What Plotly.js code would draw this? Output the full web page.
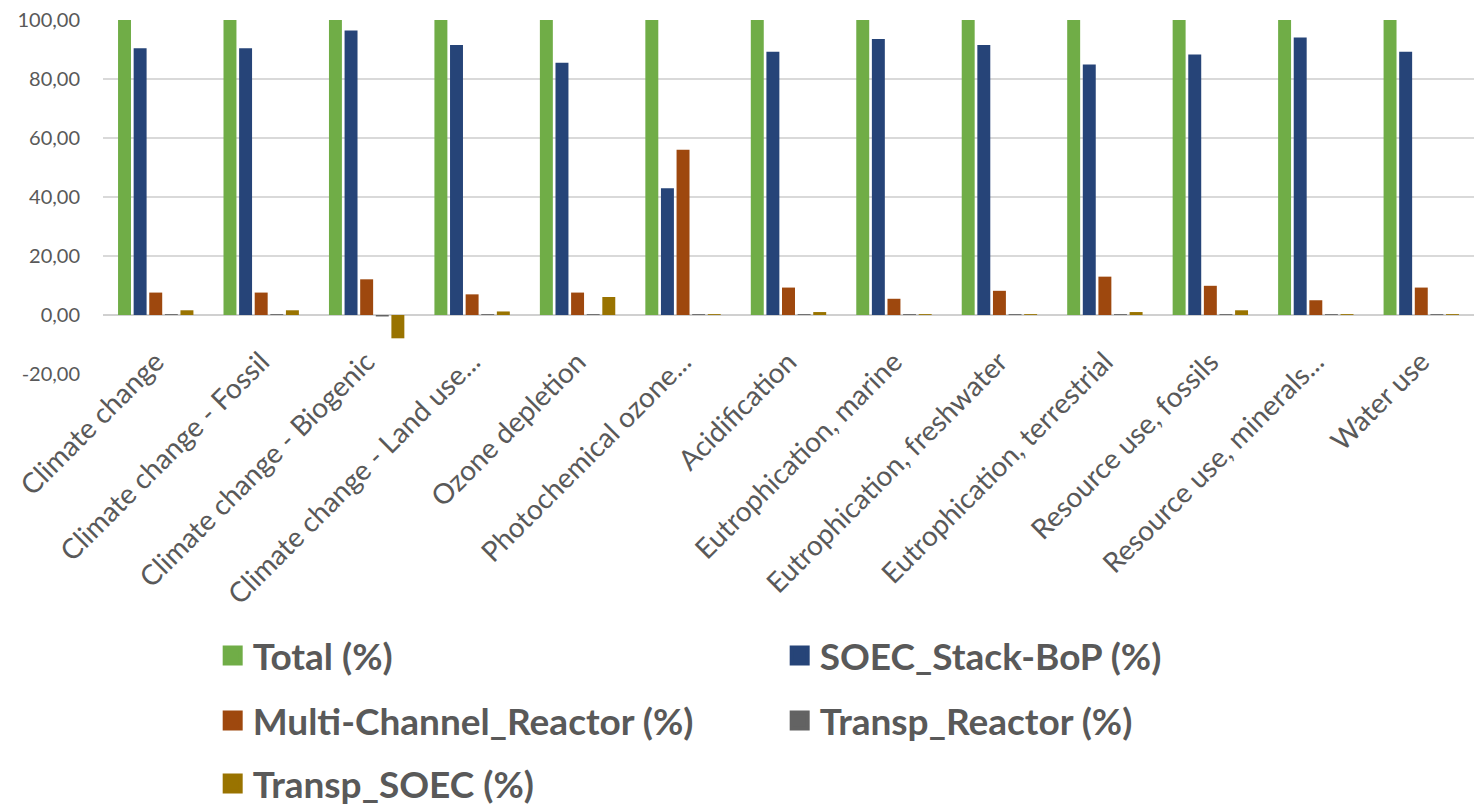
<!DOCTYPE html>
<html>
<head>
<meta charset="utf-8">
<script src="https://cdn.plot.ly/plotly-3.0.1.min.js"></script>
<style>html,body{margin:0;padding:0;background:#fff;}#chart{width:1474px;height:811px;}</style>
</head>
<body>
<div id="chart"></div>
<script>
const categories = [
  "Climate change", "Climate change - Fossil", "Climate change - Biogenic",
  "Climate change - Land use...", "Ozone depletion", "Photochemical ozone...",
  "Acidification", "Eutrophication, marine", "Eutrophication, freshwater",
  "Eutrophication, terrestrial", "Resource use, fossils", "Resource use, minerals...",
  "Water use"
];
const seriesNames = ["Total (%)", "SOEC_Stack-BoP (%)", "Multi-Channel_Reactor (%)", "Transp_Reactor (%)", "Transp_SOEC (%)"];
const total        = [100, 100, 100, 100, 100, 100, 100, 100, 100, 100, 100, 100, 100];
const soecStackBoP = [90.4, 90.4, 96.4, 91.5, 85.5, 43.0, 89.2, 93.6, 91.5, 84.9, 88.3, 94.1, 89.2];
const multiChannel = [7.6, 7.6, 12.1, 7.0, 7.6, 56.0, 9.3, 5.5, 8.2, 13.0, 9.9, 5.0, 9.3];
const transpReactor= [0.3, 0.3, -0.5, 0.3, 0.3, 0.3, 0.3, 0.3, 0.3, 0.3, 0.3, 0.3, 0.3];
const transpSOEC   = [1.6, 1.6, -7.9, 1.2, 6.1, 0.3, 1.0, 0.3, 0.3, 1.0, 1.6, 0.3, 0.3];
const yTicks = [-20, 0, 20, 40, 60, 80, 100];
const yTickLabels = ["-20,00", "0,00", "20,00", "40,00", "60,00", "80,00", "100,00"];

const colors = ["#70AD47", "#264478", "#9E480E", "#636363", "#997300"];
const values = [total, soecStackBoP, multiChannel, transpReactor, transpSOEC];
const legendIds = ["legend", "legend", "legend2", "legend2", "legend3"];

// bars (data marks)
const barTraces = values.map((v, i) => ({
  type: "bar",
  name: seriesNames[i],
  x: categories,
  y: v,
  marker: {color: colors[i]},
  showlegend: false,
  hoverinfo: "none"
}));
// legend keys (square swatches, no data)
const keyTraces = seriesNames.map((n, i) => ({
  type: "scatter", mode: "markers",
  name: n, x: [null], y: [null],
  marker: {symbol: "square", size: 16, color: colors[i], line: {width: 4, color: colors[i]}},
  legend: legendIds[i],
  showlegend: true, hoverinfo: "none"
}));

const legFont = {family: "Lato, 'Open Sans', sans-serif", size: 37, color: "#595959", weight: 700};
const legBase = {
  orientation: "h", xanchor: "left", yanchor: "middle",
  entrywidth: 522, entrywidthmode: "pixels",
  font: legFont, bgcolor: "rgba(0,0,0,0)", itemclick: false, itemdoubleclick: false,
  x: 0.08
};
const plotTop = 20, plotBottom = 374, plotH = plotBottom - plotTop;
const py = (pix) => (plotBottom - pix) / plotH;

const layout = {
  width: 1474, height: 811,
  margin: {l: 103, r: 0, t: plotTop, b: 811 - plotBottom, pad: 0, autoexpand: false},
  paper_bgcolor: "#fff", plot_bgcolor: "#fff",
  font: {family: "Lato, 'Open Sans', sans-serif", color: "#595959"},
  barmode: "group", bargap: 0.26, bargroupgap: 0.17,
  xaxis: {
    type: "category", anchor: "free", position: py(314),
    tickangle: -45, tickfont: {size: 28, color: "#595959"},
    showline: false, ticks: "", showgrid: false, automargin: false,
    ticklabelstandoff: 25
  },
  yaxis: {
    range: [-20, 100], tickvals: yTicks, ticktext: yTickLabels,
    tickfont: {size: 20, color: "#595959"},
    showgrid: true, gridcolor: "#D9D9D9", gridwidth: 1.3,
    zeroline: true, zerolinecolor: "#D0D0D0", zerolinewidth: 1.5,
    showline: false, ticks: "", ticklabelstandoff: 22, automargin: false
  },
  legend:  Object.assign({}, legBase, {y: py(656)}),
  legend2: Object.assign({}, legBase, {y: py(721)}),
  legend3: Object.assign({}, legBase, {y: py(784)}),
  showlegend: true
};

Plotly.newPlot("chart", barTraces.concat(keyTraces), layout, {displayModeBar: false, staticPlot: true});
</script>
</body>
</html>
